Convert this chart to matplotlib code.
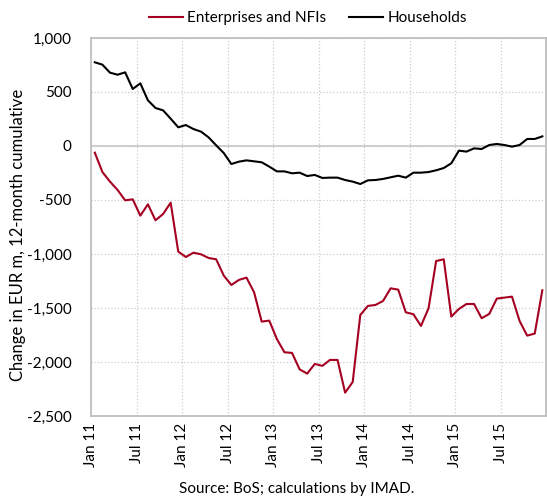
import numpy as np
import matplotlib
matplotlib.use("Agg")
import matplotlib.pyplot as plt

plt.rcParams['font.family'] = ['Lato', 'DejaVu Sans']

# monthly, Jan 2011 .. Dec 2015
enterprises = [-62, -241, -330, -407, -503, -494, -645, -540, -688, -630,
               -525, -978, -1028, -988, -1003, -1037, -1049, -1200, -1287, -1240,
               -1219, -1355, -1626, -1617, -1787, -1910, -1916, -2068, -2108, -2018,
               -2036, -1981, -1981, -2284, -2185, -1565, -1481, -1472, -1435, -1318,
               -1330, -1540, -1558, -1666, -1503, -1065, -1049, -1580, -1509, -1463,
               -1463, -1595, -1555, -1413, -1404, -1395, -1620, -1756, -1737, -1336]
households = [775, 753, 679, 660, 682, 528, 580, 423, 352, 330,
              253, 173, 194, 157, 133, 80, 6, -65, -167, -145,
              -133, -142, -151, -191, -235, -235, -253, -247, -278, -268,
              -296, -293, -293, -315, -330, -352, -318, -315, -305, -290,
              -275, -293, -247, -247, -241, -225, -204, -160, -43, -52,
              -22, -28, 9, 19, 9, -6, 9, 65, 65, 89]
tick_labels = ['Jan 11', 'Jul 11', 'Jan 12', 'Jul 12', 'Jan 13',
               'Jul 13', 'Jan 14', 'Jul 14', 'Jan 15', 'Jul 15']

red = '#a50021'
grey = '#bfbfbf'

fig = plt.figure(figsize=(5.47, 4.98), dpi=100)
ax = fig.add_axes([0.1664, 0.1647, 0.832, 0.759])

x = np.arange(len(enterprises)) + 0.5
ax.plot(x, enterprises, color=red, lw=1.5, label='Enterprises and NFIs')
ax.plot(x, households, color='black', lw=1.5, label='Households')

ax.axhline(0, color='#c8c8c8', lw=1.2, zorder=1)
ax.set_xlim(0, len(enterprises))
ax.set_ylim(-2500, 1000)
ax.set_yticks(np.arange(-2500, 1001, 500))
ax.set_yticklabels(['{:,}'.format(v) for v in range(-2500, 1001, 500)])
ax.set_xticks(np.arange(0, 60, 6))
ax.set_xticklabels(tick_labels, rotation=90)
ax.set_xticks([60], minor=True)

ax.grid(True, which='both', ls=':', color='#cccccc', lw=0.9)
ax.set_axisbelow(True)
ax.tick_params(axis='both', which='both', length=0, labelsize=11)
ax.tick_params(axis='y', pad=14)
ax.tick_params(axis='x', pad=5)
for s in ax.spines.values():
    s.set_color(grey)
    s.set_linewidth(1.3)

ax.set_ylabel('Change in EUR m, 12-month cumulative', fontsize=12)
ax.yaxis.set_label_coords(-0.143, 0.479)

fig.legend(loc='center', bbox_to_anchor=(308 / 547, 1 - 18 / 498), ncol=2,
           frameon=False, fontsize=11, handlelength=2.2, columnspacing=1.5,
           handletextpad=0.3)
fig.text(297 / 547, 1 - 489 / 498, 'Source: BoS; calculations by IMAD.',
         ha='center', va='center', fontsize=11)

fig.savefig('out.png', dpi=100)
